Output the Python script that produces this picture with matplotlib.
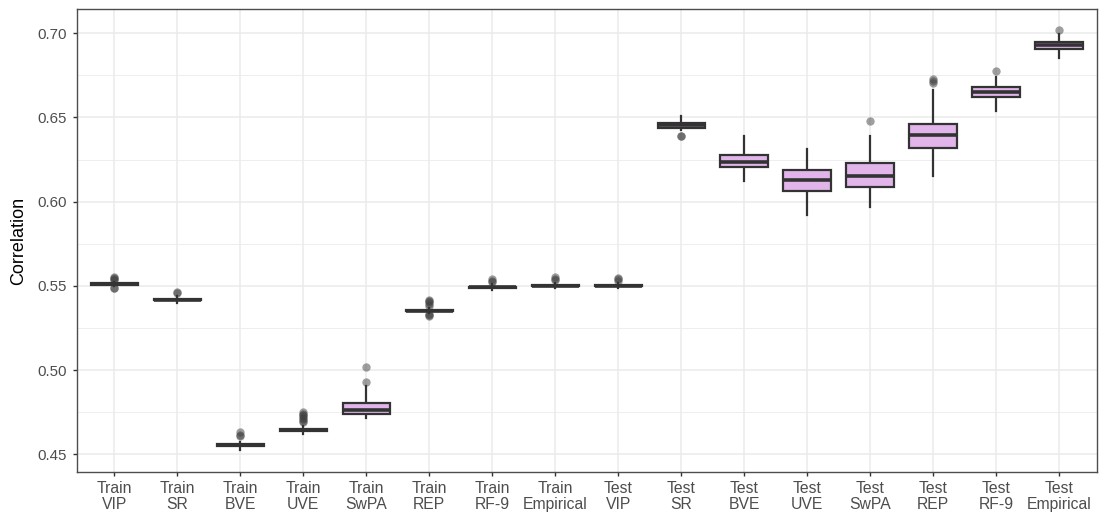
import matplotlib.pyplot as plt
import numpy as np

plt.rcParams['font.family'] = ['Liberation Sans', 'DejaVu Sans']

# model / data split labels
labels = ["Train\nVIP", "Train\nSR", "Train\nBVE", "Train\nUVE", "Train\nSwPA",
          "Train\nREP", "Train\nRF-9", "Train\nEmpirical",
          "Test\nVIP", "Test\nSR", "Test\nBVE", "Test\nUVE", "Test\nSwPA",
          "Test\nREP", "Test\nRF-9", "Test\nEmpirical"]

# box summary statistics (correlation)
med = [0.5511, 0.5418, 0.4553, 0.4644, 0.4763, 0.5353, 0.5492, 0.5501,
       0.5502, 0.6455, 0.6238, 0.6127, 0.6153, 0.6398, 0.6653, 0.6929]
q1 = [0.5505, 0.5413, 0.4549, 0.4639, 0.4741, 0.5349, 0.5488, 0.5497,
      0.5498, 0.6438, 0.6206, 0.6064, 0.6087, 0.6319, 0.6624, 0.6909]
q3 = [0.5517, 0.5423, 0.4558, 0.4650, 0.4805, 0.5357, 0.5496, 0.5505,
      0.5506, 0.6469, 0.6277, 0.6188, 0.6230, 0.6463, 0.6681, 0.6948]
whislo = [0.5497, 0.5400, 0.4527, 0.4622, 0.4717, 0.5338, 0.5478, 0.5488,
          0.5490, 0.6425, 0.6123, 0.5919, 0.5970, 0.6153, 0.6540, 0.6852]
whishi = [0.5525, 0.5440, 0.4575, 0.4665, 0.4907, 0.5370, 0.5508, 0.5515,
          0.5515, 0.6511, 0.6390, 0.6311, 0.6390, 0.6661, 0.6742, 0.6998]
fliers = [
    [0.5555, 0.5545, 0.5538, 0.5532, 0.5490, 0.5485],
    [0.5465, 0.5458],
    [0.4630, 0.4615, 0.4608],
    [0.4748, 0.4740, 0.4732, 0.4725, 0.4716, 0.4708, 0.4700, 0.4694],
    [0.4928, 0.5020],
    [0.5418, 0.5410, 0.5402, 0.5395, 0.5380, 0.5330, 0.5325, 0.5320],
    [0.5540, 0.5530, 0.5522],
    [0.5550, 0.5540, 0.5532],
    [0.5548, 0.5540, 0.5530],
    [0.6387, 0.6392],
    [],
    [],
    [0.6477],
    [0.6729, 0.6717, 0.6705],
    [0.6778],
    [0.7022],
]

stats = [dict(med=m, q1=a, q3=b, whislo=lo, whishi=hi, fliers=f)
         for m, a, b, lo, hi, f in zip(med, q1, q3, whislo, whishi, fliers)]

fig = plt.figure(figsize=(10.99, 5.17), dpi=100)
ax = fig.add_axes([0.0698, 0.0865, 0.9281, 0.8955])

edge = '#333333'
pos = np.arange(1, len(labels) + 1)
ax.bxp(stats, positions=pos, widths=0.75, patch_artist=True, showcaps=False,
       boxprops=dict(facecolor='#E1B5E9', edgecolor=edge, linewidth=1.6, zorder=3),
       medianprops=dict(color=edge, linewidth=2.6, solid_capstyle='butt', zorder=4),
       whiskerprops=dict(color=edge, linewidth=1.6, zorder=2.5),
       flierprops=dict(marker='o', markerfacecolor='#404040', markeredgecolor='none',
                       alpha=0.5, markersize=6, zorder=2.2))

ax.set_xlim(0.4, 16.6)
ax.set_ylim(0.4393, 0.7142)
ax.set_xticks(pos)
ax.set_xticklabels(labels, linespacing=1.12)
ax.set_yticks([0.45, 0.50, 0.55, 0.60, 0.65, 0.70])
ax.set_yticklabels(["0.45", "0.50", "0.55", "0.60", "0.65", "0.70"])
ax.set_yticks([0.475, 0.525, 0.575, 0.625, 0.675], minor=True)

ax.grid(which='major', color='#EBEBEB', linewidth=1.1)
ax.grid(which='minor', axis='y', color='#EBEBEB', linewidth=0.6)
ax.set_axisbelow(True)

for s in ax.spines.values():
    s.set_color('#4D4D4D')
    s.set_linewidth(1.0)

ax.tick_params(which='major', length=2.75, width=1.0, color='#333333',
               labelcolor='#4D4D4D')
ax.tick_params(axis='x', labelsize=11.3, pad=3.5)
ax.tick_params(axis='y', labelsize=10.8, pad=4.5)
ax.tick_params(which='minor', length=0)
ax.set_ylabel("Correlation", fontsize=13, color='black', labelpad=7)

fig.savefig("out.png", dpi=100)
